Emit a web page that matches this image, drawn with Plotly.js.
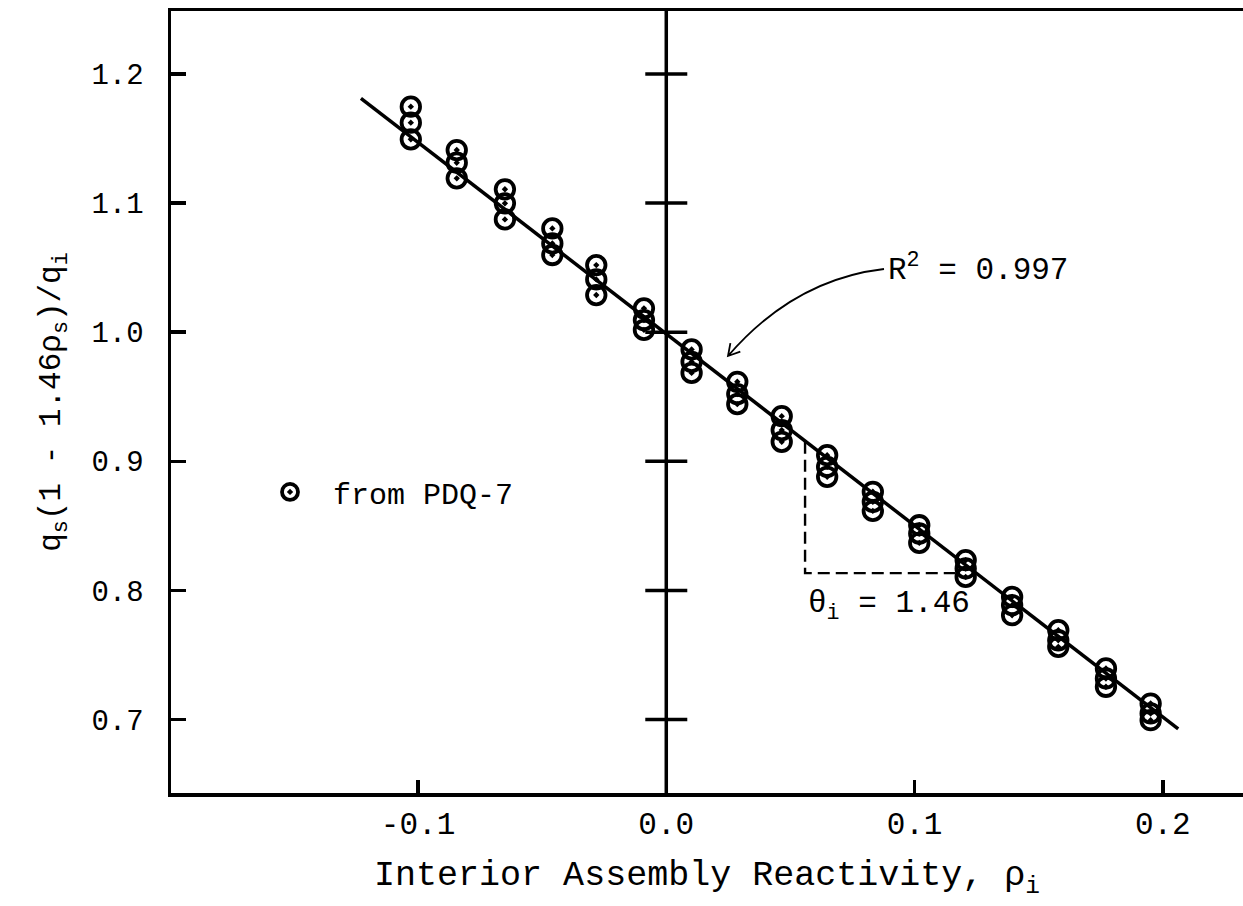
<!DOCTYPE html>
<html>
<head>
<meta charset="utf-8">
<script src="https://cdn.plot.ly/plotly-3.0.1.min.js"></script>
<style>
  html, body { margin: 0; padding: 0; background: #ffffff; }
  #chart { width: 1243px; height: 906px; }
</style>
</head>
<body>
<div id="chart"></div>
<script>
// Interior assembly reactivity of each PDQ-7 case group
const rhoI = [-0.1029, -0.0844, -0.0650, -0.0459, -0.0282, -0.0090,
              0.0102, 0.0286, 0.0465, 0.0648, 0.0832, 0.1019,
              0.1206, 0.1393, 0.1579, 0.1771, 0.1951];

// Normalised source ratio q_s(1 - 1.46 rho_s)/q_i, three cases per group
const ratioUpper  = [1.1747, 1.1411, 1.1107, 1.0804, 1.0520, 1.0185,
                     0.9867, 0.9616, 0.9350, 0.9048, 0.8764, 0.8505,
                     0.8234, 0.7950, 0.7692, 0.7396, 0.7124];
const ratioMiddle = [1.1623, 1.1313, 1.0998, 1.0688, 1.0409, 1.0094,
                     0.9771, 0.9521, 0.9242, 0.8957, 0.8686, 0.8441,
                     0.8170, 0.7886, 0.7614, 0.7318, 0.7047];
const ratioLower  = [1.1494, 1.1192, 1.0874, 1.0598, 1.0288, 1.0018,
                     0.9685, 0.9443, 0.9151, 0.8880, 0.8616, 0.8368,
                     0.8105, 0.7808, 0.7563, 0.7254, 0.6995];

// Least-squares line end points
const fitRho   = [-0.1230, 0.2062];
const fitRatio = [1.1812, 0.6927];

// Slope construction (dashed legs)
const legRho   = [0.0559, 0.0559, 0.1163];
const legRatio = [0.9151, 0.8134, 0.8134];

// Axis ticks
const xTickVals = [-0.1, 0.0, 0.1, 0.2];
const xTickText = ['-0.1', '0.0', '0.1', '0.2'];
const yTickVals = [0.7, 0.8, 0.9, 1.0, 1.1, 1.2];
const yTickText = ['0.7', '0.8', '0.9', '1.0', '1.1', '1.2'];

const FONT = 'Liberation Mono, DejaVu Sans Mono, monospace';
const INK = '#000000';

const M = { l: 171, r: 0, t: 11, b: 113 };
const W = 1243, H = 906;
const xRange = [-0.1995, 0.2323];
const yRange = [0.6431, 1.2488];
const plotW = W - M.l - M.r, plotH = H - M.t - M.b;
// pixel -> data helpers for the hand-drawn arrow
const dX = px => xRange[0] + (px - M.l) / plotW * (xRange[1] - xRange[0]);
const dY = py => yRange[1] - (py - M.t) / plotH * (yRange[1] - yRange[0]);

const ptsX = [], ptsY = [];
[ratioUpper, ratioMiddle, ratioLower].forEach(series => {
  series.forEach((v, i) => { ptsX.push(rhoI[i]); ptsY.push(v); });
});

const traces = [
  {
    x: fitRho, y: fitRatio, mode: 'lines', type: 'scatter',
    line: { color: INK, width: 3.5 }, showlegend: false, hoverinfo: 'skip'
  },
  {
    x: legRho, y: legRatio, mode: 'lines', type: 'scatter',
    line: { color: INK, width: 2.4, dash: '12px,6px' }, showlegend: false, hoverinfo: 'skip'
  },
  {
    // cross ticks on the rho = 0 line
    x: yTickVals.map(() => 0), y: yTickVals, mode: 'markers', type: 'scatter',
    marker: { symbol: 'line-ew', size: 30, color: INK, line: { color: INK, width: 3.5 } },
    showlegend: false, hoverinfo: 'skip'
  },
  {
    x: ptsX, y: ptsY, mode: 'markers', type: 'scatter', name: 'from PDQ-7',
    marker: { symbol: 'circle-open-dot', size: 18.5, color: INK, line: { color: INK, width: 3.8 } },
    showlegend: true
  }
];

// curved arrow from the R^2 note to the fitted line
const p0 = [dX(884), dY(269)], c = [dX(794), dY(279.5)], p2 = [dX(728), dY(356)];
const h1 = [dX(740.3), dY(351.7)], h2 = [dX(730.4), dY(343.2)];
const arrowPath = `M ${p0[0]},${p0[1]} Q ${c[0]},${c[1]} ${p2[0]},${p2[1]} ` +
                  `M ${h1[0]},${h1[1]} L ${p2[0]},${p2[1]} L ${h2[0]},${h2[1]}`;

const layout = {
  width: W, height: H,
  margin: M,
  paper_bgcolor: '#ffffff', plot_bgcolor: '#ffffff',
  font: { family: FONT, color: INK, size: 30 },
  showlegend: true,
  legend: {
    x: 0.0709, y: 0.385, xanchor: 'left', yanchor: 'middle',
    itemwidth: 76,
    bgcolor: 'rgba(0,0,0,0)', borderwidth: 0,
    font: { family: FONT, size: 30, color: INK }
  },
  xaxis: {
    range: xRange, showgrid: false, zeroline: false,
    showline: true, linecolor: INK, linewidth: 3.5, mirror: true,
    ticks: 'inside', ticklen: 13, tickwidth: 3.5, tickcolor: INK,
    tickmode: 'array', tickvals: xTickVals, ticktext: xTickText,
    tickfont: { family: FONT, size: 31, color: INK },
    title: { text: 'Interior Assembly Reactivity, ρ<sub>i</sub>',
             font: { family: FONT, size: 35, color: INK }, standoff: 20 }
  },
  yaxis: {
    range: yRange, showgrid: false, zeroline: false,
    showline: true, linecolor: INK, linewidth: 3.5,
    ticks: 'inside', ticklen: 15, tickwidth: 3.5, tickcolor: INK,
    tickmode: 'array', tickvals: yTickVals, ticktext: yTickText,
    tickfont: { family: FONT, size: 29, color: INK },
    ticklabelstandoff: 18,
    title: { text: 'q<sub>s</sub>(1 - 1.46ρ<sub>s</sub>)/q<sub>i</sub>',
             font: { family: FONT, size: 31, color: INK }, standoff: 22 }
  },
  shapes: [
    { type: 'line', xref: 'x', yref: 'paper', x0: 0, x1: 0, y0: 0, y1: 1,
      line: { color: INK, width: 3.5 } },
    { type: 'path', xref: 'x', yref: 'y', path: arrowPath,
      line: { color: INK, width: 1.8 } }
  ],
  annotations: [
    { xref: 'x', yref: 'y', x: dX(886), y: dY(268), xanchor: 'left', yanchor: 'middle',
      text: 'R<sup>2</sup> = 0.997', showarrow: false,
      font: { family: FONT, size: 31, color: INK } },
    { xref: 'x', yref: 'y', x: dX(806), y: dY(606), xanchor: 'left', yanchor: 'middle',
      text: 'θ<sub>i</sub> = 1.46', showarrow: false,
      font: { family: FONT, size: 31, color: INK } }
  ]
};

Plotly.newPlot('chart', traces, layout, { staticPlot: true, displayModeBar: false });
</script>
</body>
</html>
